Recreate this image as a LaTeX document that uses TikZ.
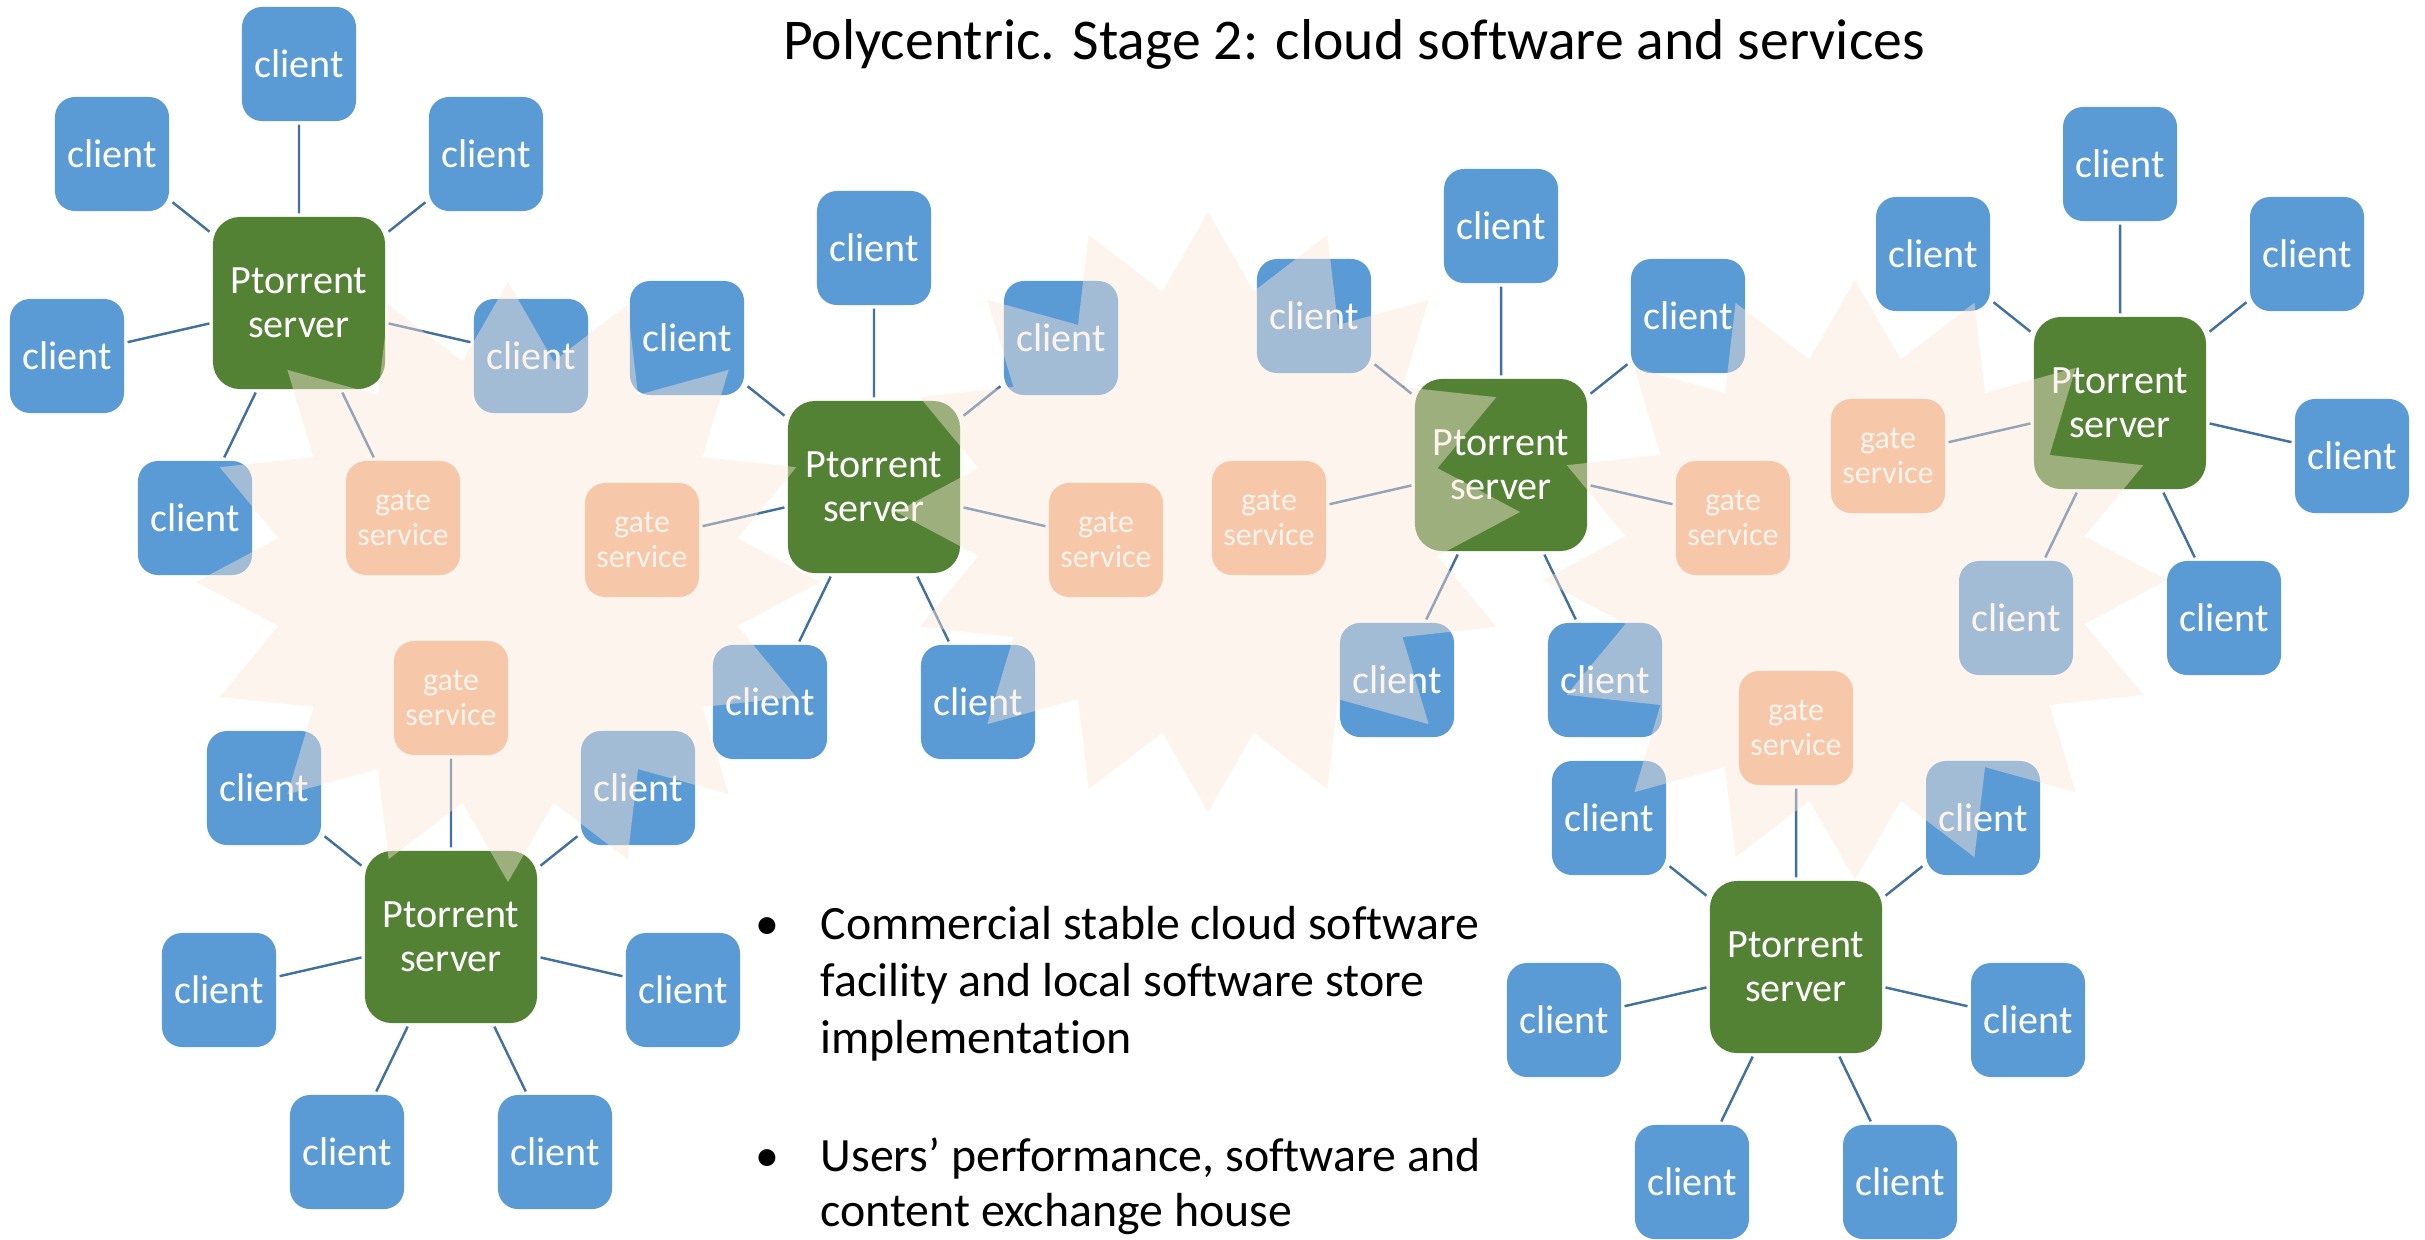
\documentclass[tikz,border=0pt]{standalone}
\usepackage{fontspec}
\setmainfont{Carlito}[Ligatures=NoCommon]

\definecolor{clientblue}{HTML}{5B9BD5}
\definecolor{servergreen}{HTML}{548235}
\definecolor{gateorange}{HTML}{F4B183}
\definecolor{linkblue}{HTML}{41719C}
\definecolor{burstpeach}{HTML}{F9E6D8}

\begin{document}
\begin{tikzpicture}[x=0.01cm, y=-0.01cm,
    client/.style={rectangle, rounded corners=0.2cm, fill=clientblue, text=white, inner sep=0pt, outer sep=1pt, minimum size=1.14cm, font=\fontsize{11.4}{12.5}\selectfont},
    server/.style={rectangle, rounded corners=0.27cm, fill=servergreen, text=white, inner sep=0pt, outer sep=1pt, minimum size=1.72cm, align=center, font=\fontsize{11.4}{12.5}\selectfont},
    gate/.style={rectangle, rounded corners=0.2cm, fill=gateorange, text=white, inner sep=0pt, outer sep=1pt, minimum size=1.14cm, align=center, font=\fontsize{9.1}{9.7}\selectfont},
    link/.style={draw=linkblue, line width=0.7pt},
    burst/.style={fill=burstpeach, opacity=0.45},
    bullettext/.style={anchor=base west, inner sep=0pt, font=\fontsize{13.6}{16.2}\selectfont}]
      \useasboundingbox (0,0) rectangle (2425,1239);

      \node[anchor=base, inner sep=0pt, font=\fontsize{16.4}{19}\selectfont] (title) at (1354,59) {Polycentric. Stage 2: cloud software and services};

      % cluster A
      \node[server] (A) at (299,303) {Ptorrent\\server};
      \node[client] (A1) at (299,64) {client};
      \node[client] (A2) at (112,154) {client};
      \node[client] (A3) at (486,154) {client};
      \node[client] (A4) at (67,356) {client};
      \node[client] (A5) at (531,356) {client};
      \node[client] (A6) at (195,518) {client};
      \node[gate] (A7) at (403,518) {gate\\service};
      \draw[link] (A) -- (A1) (A) -- (A2) (A) -- (A3) (A) -- (A4) (A) -- (A5) (A) -- (A6) (A) -- (A7);

      % cluster B
      \node[server] (B) at (874,487) {Ptorrent\\server};
      \node[client] (B1) at (874,248) {client};
      \node[client] (B2) at (687,338) {client};
      \node[client] (B3) at (1061,338) {client};
      \node[gate] (B4) at (642,540) {gate\\service};
      \node[gate] (B5) at (1106,540) {gate\\service};
      \node[client] (B6) at (770,702) {client};
      \node[client] (B7) at (978,702) {client};
      \draw[link] (B) -- (B1) (B) -- (B2) (B) -- (B3) (B) -- (B4) (B) -- (B5) (B) -- (B6) (B) -- (B7);

      % cluster C
      \node[server] (C) at (1501,465) {Ptorrent\\server};
      \node[client] (C1) at (1501,226) {client};
      \node[client] (C2) at (1314,316) {client};
      \node[client] (C3) at (1688,316) {client};
      \node[gate] (C4) at (1269,518) {gate\\service};
      \node[gate] (C5) at (1733,518) {gate\\service};
      \node[client] (C6) at (1397,680) {client};
      \node[client] (C7) at (1605,680) {client};
      \draw[link] (C) -- (C1) (C) -- (C2) (C) -- (C3) (C) -- (C4) (C) -- (C5) (C) -- (C6) (C) -- (C7);

      % cluster D
      \node[server] (D) at (2120,403) {Ptorrent\\server};
      \node[client] (D1) at (2120,164) {client};
      \node[client] (D2) at (1933,254) {client};
      \node[client] (D3) at (2307,254) {client};
      \node[gate] (D4) at (1888,456) {gate\\service};
      \node[client] (D5) at (2352,456) {client};
      \node[client] (D6) at (2016,618) {client};
      \node[client] (D7) at (2224,618) {client};
      \draw[link] (D) -- (D1) (D) -- (D2) (D) -- (D3) (D) -- (D4) (D) -- (D5) (D) -- (D6) (D) -- (D7);

      % cluster E
      \node[server] (E) at (451,937) {Ptorrent\\server};
      \node[gate] (E1) at (451,698) {gate\\service};
      \node[client] (E2) at (264,788) {client};
      \node[client] (E3) at (638,788) {client};
      \node[client] (E4) at (219,990) {client};
      \node[client] (E5) at (683,990) {client};
      \node[client] (E6) at (347,1152) {client};
      \node[client] (E7) at (555,1152) {client};
      \draw[link] (E) -- (E1) (E) -- (E2) (E) -- (E3) (E) -- (E4) (E) -- (E5) (E) -- (E6) (E) -- (E7);

      % cluster F
      \node[server] (F) at (1796,967) {Ptorrent\\server};
      \node[gate] (F1) at (1796,728) {gate\\service};
      \node[client] (F2) at (1609,818) {client};
      \node[client] (F3) at (1983,818) {client};
      \node[client] (F4) at (1564,1020) {client};
      \node[client] (F5) at (2028,1020) {client};
      \node[client] (F6) at (1692,1182) {client};
      \node[client] (F7) at (1900,1182) {client};
      \draw[link] (F) -- (F1) (F) -- (F2) (F) -- (F3) (F) -- (F4) (F) -- (F5) (F) -- (F6) (F) -- (F7);

      % starbursts laid over the clusters
      \fill[burst] plot[samples at={0,...,31}, variable=\k] ({508+(1-0.25*mod(\k,2))*312*cos(11.25*\k)}, {582+(1-0.25*mod(\k,2))*300*sin(11.25*\k)}) -- cycle;
      \fill[burst] plot[samples at={0,...,31}, variable=\k] ({1208+(1-0.25*mod(\k,2))*312*cos(11.25*\k)}, {512+(1-0.25*mod(\k,2))*300*sin(11.25*\k)}) -- cycle;
      \fill[burst] plot[samples at={0,...,31}, variable=\k] ({1855+(1-0.25*mod(\k,2))*312*cos(11.25*\k)}, {580+(1-0.25*mod(\k,2))*300*sin(11.25*\k)}) -- cycle;

      % bullets
      \node[anchor=base, inner sep=0pt, font=\fontsize{13.6}{16.2}\selectfont] (dot1) at (767,939) {\textbullet};
      \node[bullettext] (l1) at (820,939) {Commercial stable cloud software};
      \node[bullettext] (l2) at (820,996) {facility and local software store};
      \node[bullettext] (l3) at (820,1053) {implementation};
      \node[anchor=base, inner sep=0pt, font=\fontsize{13.6}{16.2}\selectfont] (dot2) at (767,1171) {\textbullet};
      \node[bullettext] (l4) at (820,1171) {Users’ performance, software and};
      \node[bullettext] (l5) at (820,1226) {content exchange house};
    \end{tikzpicture}
\end{document}
